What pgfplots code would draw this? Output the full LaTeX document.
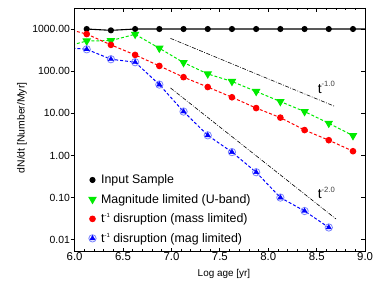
\documentclass[border=0pt]{standalone}
\usepackage{pgfplots}
\pgfplotsset{compat=1.18}
\usepackage{fontspec}
\setmainfont{Liberation Sans}
\definecolor{cgreen}{RGB}{0,235,0}
\definecolor{cred}{RGB}{255,0,0}
\definecolor{cblue}{RGB}{0,0,255}
\definecolor{lblue}{RGB}{120,130,255}
\pgfplotstableread{
x y
6.125 1000
6.375 930
6.625 1000
6.875 1000
7.125 1000
7.375 1000
7.625 1000
7.875 1000
8.125 1000
8.375 1000
8.625 1000
8.875 1000
9.125 1000
}\inputtab
\pgfplotstableread{
x y
5.875 365
6.125 520
6.375 530
6.625 750
6.875 350
7.125 160
7.375 86
7.625 57
7.875 33
8.125 19
8.375 11
8.625 5.8
8.875 2.95
}\maglim
\pgfplotstableread{
x y
5.875 1070
6.125 760
6.375 420
6.625 243
6.875 133
7.125 72
7.375 42
7.625 24
7.875 13.3
8.125 7.9
8.375 4.0
8.625 2.3
8.875 1.26
}\massdis
\pgfplotstableread{
x y
5.875 370
6.125 330
6.375 192
6.625 163
6.875 48
7.125 11
7.375 3.0
7.625 1.2
7.875 0.40
8.125 0.100
8.375 0.048
8.625 0.0195
}\magdis
\begin{document}
\begin{tikzpicture}
\begin{axis}[
  at={(0,0)}, anchor=south west,
  width=292bp, height=245bp, scale only axis,
  xmin=6, xmax=9, ymin=0.0052, ymax=3160, ymode=log,
  xtick={6,6.5,7,7.5,8,8.5,9}, minor x tick num=4,
  ytick={0.01,0.1,1,10,100,1000},
  yticklabels={0.01,0.10,1.00,10.00,100.00,1000.00},
  yminorticks=false,
  tick align=inside, xtick pos=both, ytick pos=right, yticklabel pos=left,
  major tick length=4bp, minor tick length=2.5bp,
  tick style={black, line width=0.7bp},
  axis line style={line width=0.8bp},
  /pgf/number format/assume math mode=true,
  xticklabel style={/pgf/number format/.cd, fixed, fixed zerofill, precision=1, /tikz/.cd, font=\fontsize{11.5}{12}\selectfont, inner sep=1bp, yshift=0bp},
  yticklabel style={font=\fontsize{10.5}{12}\selectfont, inner sep=0pt, xshift=-4.5bp},
  xlabel={Log age [yr]}, ylabel={dN/dt [Number/Myr]},
  xlabel style={font=\fontsize{10}{12}\selectfont, at={(rel axis cs:0.514,-0.09)}, anchor=center},
  ylabel style={font=\fontsize{10.5}{12}\selectfont, at={(rel axis cs:-0.1815,0.508)}, anchor=center, rotate=0},
  legend style={draw=none, fill=none, font=\fontsize{12.5}{14}\selectfont, at={(rel axis cs:0.038,0.022)}, anchor=south west, row sep=8bp, nodes={inner sep=0.5bp}, /tikz/every odd column/.append style={column sep=4.5bp}},
  legend cell align=left,
  legend image code/.code={\draw[#1] plot coordinates {(0.1cm,0cm)};},
]
\addplot[black, line width=1.1bp, mark=*, mark size=2.5bp, mark options={solid}] table[x=x,y=y] {\inputtab};
\addlegendentry{Input Sample}
\addplot[cgreen, line width=1bp, dash pattern=on 3bp off 2bp, mark=triangle*, mark size=4bp, mark options={solid, rotate=180}] table[x=x,y=y] {\maglim};
\addlegendentry{Magnitude limited (U-band)}
\addplot[cred, line width=1bp, dash pattern=on 3bp off 2bp, mark=*, mark size=2.8bp, mark options={solid}] table[x=x,y=y] {\massdis};
\addlegendentry{t\raisebox{5bp}{\fontsize{6}{6}\selectfont -1} disruption (mass limited)}
\addplot[cblue, line width=1bp, dash pattern=on 3bp off 2bp, mark=none, forget plot] table[x=x,y=y] {\magdis};
\addplot[only marks, mark=o, mark size=3.7bp, mark options={lblue, fill=white, line width=0.8bp}, forget plot] table[x=x,y=y] {\magdis};
\addplot[only marks, cblue, mark=triangle*, mark size=3bp,
  legend image code/.code={\draw[only marks, mark=o, mark size=3.7bp, mark options={lblue, fill=white, line width=0.8bp}] plot coordinates {(0.1cm,0cm)};
  \draw[only marks, cblue, mark=triangle*, mark size=3bp] plot coordinates {(0.1cm,0cm)};}] table[x=x,y=y] {\magdis};
\addlegendentry{t\raisebox{5bp}{\fontsize{6}{6}\selectfont -1} disruption (mag limited)}
\addplot[black, line width=0.6bp, dash pattern=on 4bp off 1.5bp on 0.8bp off 1.5bp, forget plot] coordinates {(6.99,600) (8.69,14.5)};
\addplot[black, line width=0.6bp, dash pattern=on 4bp off 1.5bp on 0.8bp off 1.5bp, forget plot] coordinates {(6.99,40) (8.70,0.031)};
\node[anchor=base west, inner sep=0pt] at (axis cs:8.51,30) {\fontsize{14}{14}\selectfont t\raisebox{6.5bp}{\fontsize{7.7}{8}\selectfont\color{black!75}-1.0}};
\node[anchor=base west, inner sep=0pt] at (axis cs:8.51,0.094) {\fontsize{14}{14}\selectfont t\raisebox{6.5bp}{\fontsize{7.7}{8}\selectfont\color{black!75}-2.0}};
\end{axis}
\begin{axis}[
  at={(0,0)}, anchor=south west,
  width=292bp, height=245bp, scale only axis,
  xmin=6, xmax=9, ymin=0.0052, ymax=3160, ymode=log,
  hide x axis,
  ytick={0.01,0.1,1,10,100,1000}, yticklabels={}, yminorticks=false,
  tick align=outside, ytick pos=left,
  major tick length=4bp,
  tick style={black, line width=0.7bp},
  axis line style={line width=0.8bp},
]
\end{axis}
\path (-75bp,-46bp) rectangle (299bp,253bp);
\end{tikzpicture}
\end{document}
